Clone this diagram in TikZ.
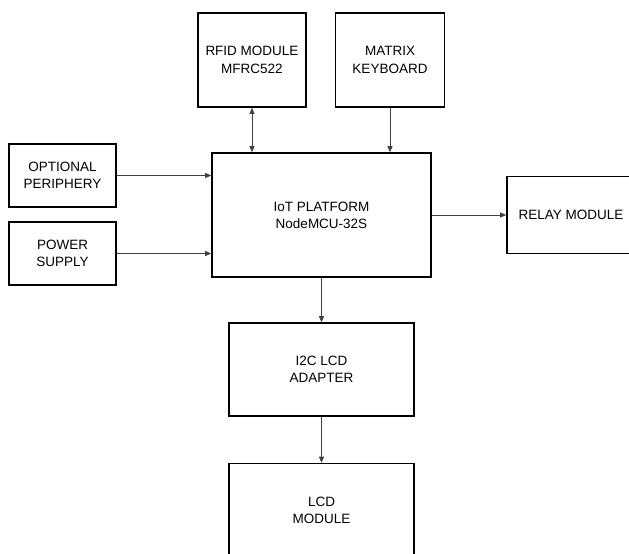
\documentclass[tikz,border=0pt]{standalone}
\usepackage{fontspec}
\setmainfont{Liberation Sans}
\usetikzlibrary{arrows.meta}
\begin{document}
\begin{tikzpicture}[x=1pt,y=-1pt,
  blk/.style={draw=black,line width=1.6pt,align=center,inner sep=0pt,
    font=\fontsize{13.5}{17.3}\selectfont},
  conn/.style={line width=0.8pt,draw=black!75,-{Triangle[length=6pt,width=5pt]}},
  biconn/.style={line width=0.8pt,draw=black!75,{Triangle[length=6pt,width=5pt]}-{Triangle[length=6pt,width=5pt]}}
]
\useasboundingbox (0,0) rectangle (629,554);
\node[blk,minimum width=108pt,minimum height=94pt] (rfid) at (252,60) {RFID MODULE\\MFRC522};
\node[blk,minimum width=109pt,minimum height=94pt] (mat) at (390,60) {MATRIX\\KEYBOARD};
\node[blk,minimum width=107pt,minimum height=63pt] (opt) at (62.5,175.5) {OPTIONAL\\PERIPHERY};
\node[blk,minimum width=107pt,minimum height=63pt] (pow) at (62.5,253.5) {POWER\\SUPPLY};
\node[blk,minimum width=219pt,minimum height=124pt] (plat) at (321.5,215) {IoT PLATFORM\\NodeMCU-32S};
\node[blk,minimum width=128pt,minimum height=77pt] (relay) at (571,215) {RELAY MODULE};
\node[blk,minimum width=185pt,minimum height=93pt] (i2c) at (321.5,369.5) {I2C LCD\\ADAPTER};
\node[blk,minimum width=185pt,minimum height=94pt] (lcd) at (321.5,510.5) {LCD\\MODULE};

\draw[biconn] (rfid.south) -- (rfid.south |- plat.north);
\draw[conn] (mat.south) -- (mat.south |- plat.north);
\draw[conn] (opt.east) -- (opt.east -| plat.west);
\draw[conn] (pow.east) -- (pow.east -| plat.west);
\draw[conn] (plat.east) -- (relay.west);
\draw[conn] (plat.south) -- (i2c.north);
\draw[conn] (i2c.south) -- (lcd.north);
\end{tikzpicture}
\end{document}
